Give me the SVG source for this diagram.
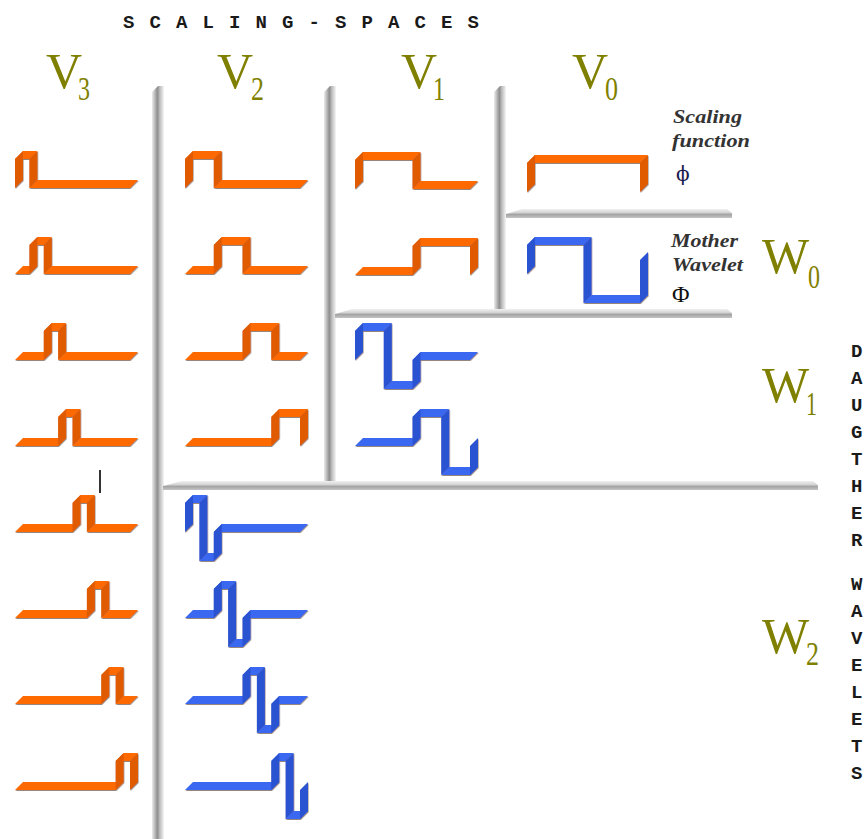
<svg xmlns="http://www.w3.org/2000/svg" width="868" height="839" viewBox="0 0 868 839">
<defs>
<style>
.oh{fill:#FF6A00}.ov{fill:#E05A00}.bh{fill:#3A68F0}.bv{fill:#2A52D2}
.wave{filter:url(#sh)}
.lbl{font-family:"Liberation Serif","Times New Roman",serif;fill:#808000}
.big{font-size:50px}.sub{font-size:34px}
.mono{font-family:"Liberation Mono","Courier New",monospace;font-weight:bold;font-size:19px;fill:#1a1a1a}
.it{font-family:"Liberation Serif","Times New Roman",serif;font-style:italic;font-weight:bold;font-size:19px;fill:#333}
.vb{fill:url(#vg)}.hb{fill:url(#hg)}
</style>
<filter id="sh" x="-5%" y="-5%" width="110%" height="115%">
<feDropShadow dx="0.5" dy="0.9" stdDeviation="0.5" flood-color="#5a4030" flood-opacity="0.7"/>
</filter>
<linearGradient id="vg" x1="0" y1="0" x2="1" y2="0">
<stop offset="0" stop-color="#ececec"/><stop offset="0.25" stop-color="#b8b8b8"/><stop offset="0.45" stop-color="#8e8e8e"/><stop offset="0.65" stop-color="#bcbcbc"/><stop offset="1" stop-color="#f6f6f6"/>
</linearGradient>
<linearGradient id="hg" x1="0" y1="0" x2="0" y2="1">
<stop offset="0" stop-color="#f0f0f0"/><stop offset="0.4" stop-color="#d4d4d4"/><stop offset="0.6" stop-color="#a4a4a4"/><stop offset="1" stop-color="#c4c4c4"/>
</linearGradient>
</defs>
<rect width="868" height="839" fill="#ffffff"/>

<g id="dividers">
<path class="vb" d="M152 92L158 86L164 86L164 839L152 839Z"/>
<path class="vb" d="M324 92L330 86L336 86L336 484L324 484Z"/>
<path class="vb" d="M494 92L500 86L506 86L506 312L494 312Z"/>
<path class="hb" d="M506 218L506 214L522 209L727 209L732 213L732 218Z"/>
<path class="hb" d="M335 318L335 314L352 309L727 309L732 313L732 318Z"/>
<path class="hb" d="M163 490L163 486L182 481L813 481L818 485L818 490Z"/>
</g>

<g id="title"><text class="mono" y="28" x="123 149.5 176 202.5 229 255.5 282 308.5 335 361.5 388 414.5 441 467.5">SCALING-SPACES</text></g>

<g id="label-V3" class="lbl"><text class="big" x="46" y="88">V</text><text class="sub" x="78" y="100" textLength="12" lengthAdjust="spacingAndGlyphs">3</text></g>
<g id="label-V2" class="lbl"><text class="big" x="217" y="88">V</text><text class="sub" x="251" y="100" textLength="13" lengthAdjust="spacingAndGlyphs">2</text></g>
<g id="label-V1" class="lbl"><text class="big" x="401" y="88">V</text><text class="sub" x="433" y="100" textLength="12" lengthAdjust="spacingAndGlyphs">1</text></g>
<g id="label-V0" class="lbl"><text class="big" x="572" y="88">V</text><text class="sub" x="605" y="100" textLength="13" lengthAdjust="spacingAndGlyphs">0</text></g>
<g id="label-W0" class="lbl"><text class="big" x="762" y="273">W</text><text class="sub" x="808" y="288" textLength="12" lengthAdjust="spacingAndGlyphs">0</text></g>
<g id="label-W1" class="lbl"><text class="big" x="762" y="402">W</text><text class="sub" x="806" y="415" textLength="11" lengthAdjust="spacingAndGlyphs">1</text></g>
<g id="label-W2" class="lbl"><text class="big" x="762" y="653">W</text><text class="sub" x="806" y="665" textLength="13" lengthAdjust="spacingAndGlyphs">2</text></g>

<g id="label-scaling">
<text class="it" x="673" y="123" textLength="69" lengthAdjust="spacingAndGlyphs">Scaling</text>
<text class="it" x="672" y="147" textLength="78" lengthAdjust="spacingAndGlyphs">function</text>
<text x="676" y="181" font-family="DejaVu Serif,serif" font-size="20" fill="#1a1a50">ϕ</text>
</g>
<g id="label-mother">
<text class="it" x="671" y="247" textLength="67" lengthAdjust="spacingAndGlyphs">Mother</text>
<text class="it" x="672" y="271" textLength="71" lengthAdjust="spacingAndGlyphs">Wavelet</text>
<text x="672" y="302" font-family="Liberation Serif,serif" font-size="24" fill="#111">Φ</text>
</g>

<g id="label-daughter" class="mono">
<text x="851" y="357">D</text><text x="851" y="384">A</text><text x="851" y="411">U</text><text x="851" y="438">G</text>
<text x="851" y="465">T</text><text x="851" y="492">H</text><text x="851" y="519">E</text><text x="851" y="546">R</text>
<text x="851" y="590">W</text><text x="851" y="617">A</text><text x="851" y="644">V</text><text x="851" y="671">E</text>
<text x="851" y="698">L</text><text x="851" y="725">E</text><text x="851" y="752">T</text><text x="851" y="779">S</text>
</g>

<line id="cursor" x1="100" y1="470" x2="100" y2="493" stroke="#000" stroke-width="1.6"/>

<!-- V3 column -->
<g id="v3-1" class="wave" transform="translate(15,188)"><path class="oh" d="M0 -29h14.38l8-8h-14.38z M14.38 0h100.62l8-8h-100.62z"/><path class="ov" d="M0 0v-29l8-8v29z M14.38 -29v29l8-8v-29z"/></g>
<g id="v3-2" class="wave" transform="translate(15,274)"><path class="oh" d="M0 0h14.38l8-8h-14.38z M14.38 -29h14.37l8-8h-14.37z M28.75 0h86.25l8-8h-86.25z"/><path class="ov" d="M14.38 0v-29l8-8v29z M28.75 -29v29l8-8v-29z"/></g>
<g id="v3-3" class="wave" transform="translate(15,360)"><path class="oh" d="M0 0h28.75l8-8h-28.75z M28.75 -29h14.38l8-8h-14.38z M43.13 0h71.87l8-8h-71.87z"/><path class="ov" d="M28.75 0v-29l8-8v29z M43.13 -29v29l8-8v-29z"/></g>
<g id="v3-4" class="wave" transform="translate(15,446)"><path class="oh" d="M0 0h43.13l8-8h-43.13z M43.13 -29h14.37l8-8h-14.37z M57.5 0h57.5l8-8h-57.5z"/><path class="ov" d="M43.13 0v-29l8-8v29z M57.5 -29v29l8-8v-29z"/></g>
<g id="v3-5" class="wave" transform="translate(15,532)"><path class="oh" d="M0 0h57.5l8-8h-57.5z M57.5 -29h14.38l8-8h-14.38z M71.88 0h43.12l8-8h-43.12z"/><path class="ov" d="M57.5 0v-29l8-8v29z M71.88 -29v29l8-8v-29z"/></g>
<g id="v3-6" class="wave" transform="translate(15,618)"><path class="oh" d="M0 0h71.88l8-8h-71.88z M71.88 -29h14.37l8-8h-14.37z M86.25 0h28.75l8-8h-28.75z"/><path class="ov" d="M71.88 0v-29l8-8v29z M86.25 -29v29l8-8v-29z"/></g>
<g id="v3-7" class="wave" transform="translate(15,704)"><path class="oh" d="M0 0h86.25l8-8h-86.25z M86.25 -29h14.38l8-8h-14.38z M100.63 0h14.37l8-8h-14.37z"/><path class="ov" d="M86.25 0v-29l8-8v29z M100.63 -29v29l8-8v-29z"/></g>
<g id="v3-8" class="wave" transform="translate(15,790)"><path class="oh" d="M0 0h100.63l8-8h-100.63z M100.63 -29h14.37l8-8h-14.37z"/><path class="ov" d="M100.63 0v-29l8-8v29z M115 -29v29l8-8v-29z"/></g>

<!-- V2 column -->
<g id="v2-1" class="wave" transform="translate(185,188)"><path class="oh" d="M0 -29h28.75l8-8h-28.75z M28.75 0h86.25l8-8h-86.25z"/><path class="ov" d="M0 0v-29l8-8v29z M28.75 -29v29l8-8v-29z"/></g>
<g id="v2-2" class="wave" transform="translate(185,274)"><path class="oh" d="M0 0h28.75l8-8h-28.75z M28.75 -29h28.75l8-8h-28.75z M57.5 0h57.5l8-8h-57.5z"/><path class="ov" d="M28.75 0v-29l8-8v29z M57.5 -29v29l8-8v-29z"/></g>
<g id="v2-3" class="wave" transform="translate(185,360)"><path class="oh" d="M0 0h57.5l8-8h-57.5z M57.5 -29h28.75l8-8h-28.75z M86.25 0h28.75l8-8h-28.75z"/><path class="ov" d="M57.5 0v-29l8-8v29z M86.25 -29v29l8-8v-29z"/></g>
<g id="v2-4" class="wave" transform="translate(185,446)"><path class="oh" d="M0 0h86.25l8-8h-86.25z M86.25 -29h28.75l8-8h-28.75z"/><path class="ov" d="M86.25 0v-29l8-8v29z M115 -29v29l8-8v-29z"/></g>
<g id="w2-1" class="wave" transform="translate(185,532)"><path class="bh" d="M0 -29h14.38l8-8h-14.38z M14.38 29h14.37l8-8h-14.37z M28.75 0h86.25l8-8h-86.25z"/><path class="bv" d="M0 0v-29l8-8v29z M14.38 -29v58l8-8v-58z M28.75 29v-29l8-8v29z"/></g>
<g id="w2-2" class="wave" transform="translate(185,618)"><path class="bh" d="M0 0h28.75l8-8h-28.75z M28.75 -29h14.38l8-8h-14.38z M43.13 29h14.37l8-8h-14.37z M57.5 0h57.5l8-8h-57.5z"/><path class="bv" d="M28.75 0v-29l8-8v29z M43.13 -29v58l8-8v-58z M57.5 29v-29l8-8v29z"/></g>
<g id="w2-3" class="wave" transform="translate(185,704)"><path class="bh" d="M0 0h57.5l8-8h-57.5z M57.5 -29h14.38l8-8h-14.38z M71.88 29h14.37l8-8h-14.37z M86.25 0h28.75l8-8h-28.75z"/><path class="bv" d="M57.5 0v-29l8-8v29z M71.88 -29v58l8-8v-58z M86.25 29v-29l8-8v29z"/></g>
<g id="w2-4" class="wave" transform="translate(185,790)"><path class="bh" d="M0 0h86.25l8-8h-86.25z M86.25 -29h14.38l8-8h-14.38z M100.63 29h14.37l8-8h-14.37z"/><path class="bv" d="M86.25 0v-29l8-8v29z M100.63 -29v58l8-8v-58z M115 29v-29l8-8v29z"/></g>

<!-- V1 column -->
<g id="v1-1" class="wave" transform="translate(355,189)"><path class="oh" d="M0 -29h57.5l8-8h-57.5z M57.5 0h57.5l8-8h-57.5z"/><path class="ov" d="M0 0v-29l8-8v29z M57.5 -29v29l8-8v-29z"/></g>
<g id="v1-2" class="wave" transform="translate(355,275)"><path class="oh" d="M0 0h57.5l8-8h-57.5z M57.5 -29h57.5l8-8h-57.5z"/><path class="ov" d="M57.5 0v-29l8-8v29z M115 -29v29l8-8v-29z"/></g>
<g id="w1-1" class="wave" transform="translate(355,360)"><path class="bh" d="M0 -29h28.75l8-8h-28.75z M28.75 29h28.75l8-8h-28.75z M57.5 0h57.5l8-8h-57.5z"/><path class="bv" d="M0 0v-29l8-8v29z M28.75 -29v58l8-8v-58z M57.5 29v-29l8-8v29z"/></g>
<g id="w1-2" class="wave" transform="translate(355,446)"><path class="bh" d="M0 0h57.5l8-8h-57.5z M57.5 -29h28.75l8-8h-28.75z M86.25 29h28.75l8-8h-28.75z"/><path class="bv" d="M57.5 0v-29l8-8v29z M86.25 -29v58l8-8v-58z M115 29v-29l8-8v29z"/></g>

<!-- V0 column -->
<g id="phi" class="wave" transform="translate(527,192)"><path class="oh" d="M0 -29h113l8-8h-113z"/><path class="ov" d="M0 0v-29l8-8v29z M113 -29v29l8-8v-29z"/></g>
<g id="mother" class="wave" transform="translate(527,274)"><path class="bh" d="M0 -29h56.5l8-8h-56.5z M56.5 29h56.5l8-8h-56.5z"/><path class="bv" d="M0 0v-29l8-8v29z M56.5 -29v58l8-8v-58z M113 29v-43l8-8v43z"/></g>
</svg>
